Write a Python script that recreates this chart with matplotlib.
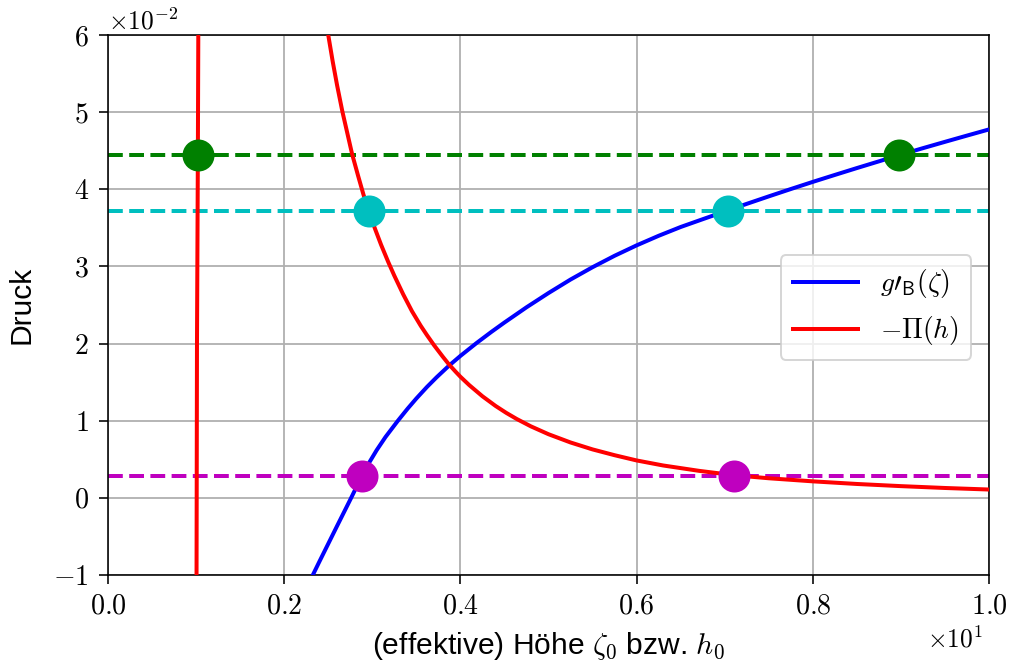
import matplotlib
matplotlib.use("Agg")
import matplotlib.pyplot as plt
from matplotlib.ticker import FuncFormatter

# g'_B(zeta): effective interface potential derivative
zeta = [2.325, 2.40, 2.50, 2.60, 2.70, 2.76, 2.82, 2.88, 2.96, 3.05, 3.15, 3.29,
        3.40, 3.50, 3.62, 3.73, 3.87, 4.00, 4.18, 4.35, 4.50, 4.75, 5.00, 5.25,
        5.50, 5.75, 6.00, 6.25, 6.50, 6.75, 7.04, 7.25, 7.50, 7.75, 8.00, 8.25,
        8.50, 8.75, 8.975, 9.25, 9.50, 9.75, 10.0]
g_prime = [-0.01000, -0.00825, -0.00595, -0.00365, -0.00137, 0.00000, 0.00140,
           0.00280, 0.00448, 0.00619, 0.00789, 0.00999, 0.01155, 0.01288,
           0.01437, 0.01563, 0.01713, 0.01840, 0.02004, 0.02150, 0.02273,
           0.02470, 0.02655, 0.02830, 0.02990, 0.03138, 0.03273, 0.03397,
           0.03511, 0.03612, 0.03728, 0.03811, 0.03908, 0.04003, 0.04096,
           0.04186, 0.04275, 0.04362, 0.04441, 0.04533, 0.04615, 0.04696,
           0.04776]

# -Pi(h): disjoining pressure, repulsive wall and long-range tail
h_wall = [1.005, 1.010, 1.020, 1.025]
pi_wall = [-0.0100, 0.0200, 0.0444, 0.0600]
h_tail = [2.50, 2.55, 2.60, 2.66, 2.72, 2.77, 2.84, 2.90, 2.96, 3.03, 3.10, 3.18,
          3.25, 3.35, 3.45, 3.55, 3.62, 3.70, 3.80, 3.87, 3.95, 4.00, 4.10, 4.25,
          4.40, 4.52, 4.64, 4.80, 5.00, 5.25, 5.50, 5.75, 6.00, 6.30, 6.71, 7.11,
          7.50, 8.00, 8.50, 9.00, 9.50, 10.0]
pi_tail = [0.06000, 0.05660, 0.05350, 0.05010, 0.04710, 0.04460, 0.04170,
           0.03930, 0.03720, 0.03490, 0.03280, 0.03060, 0.02880, 0.02640,
           0.02420, 0.02230, 0.02110, 0.01980, 0.01830, 0.01730, 0.01630,
           0.01570, 0.01462, 0.01317, 0.01191, 0.01102, 0.01022, 0.00927,
           0.00825, 0.00718, 0.00628, 0.00553, 0.00485, 0.00420, 0.00350,
           0.00293, 0.00254, 0.00214, 0.00180, 0.00152, 0.00128, 0.00108]

# equal-pressure levels and their intersection points
levels = [0.0444, 0.0372, 0.0028]
level_colors = ["g", "c", "m"]
level_x = [[1.02, 8.975], [2.96, 7.04], [2.88, 7.11]]

x_ticks = [0, 2, 4, 6, 8, 10]
y_ticks = [-0.01, 0.0, 0.01, 0.02, 0.03, 0.04, 0.05, 0.06]

plt.rcParams["mathtext.fontset"] = "cm"
plt.rcParams["font.family"] = ["Liberation Sans", "DejaVu Sans"]

W, H, DPI = 1013, 668, 144
fig = plt.figure(figsize=(W / DPI, H / DPI), dpi=DPI)
ax = fig.add_axes([108 / W, (H - 575) / H, 881 / W, 540 / H])

ax.plot(zeta, g_prime, color="b", lw=2, label=r"$g\prime_{\mathsf{B}}(\zeta)$", zorder=3)
ax.plot(h_wall, pi_wall, color="r", lw=2, label=r"$-\Pi(h)$", zorder=3)
ax.plot(h_tail, pi_tail, color="r", lw=2, zorder=3)

for lev, col, xs in zip(levels, level_colors, level_x):
    ax.axhline(lev, color=col, lw=2, ls="--", zorder=2)
    ax.plot(xs, [lev, lev], "o", color=col, ms=15, zorder=4)

ax.set_xlim(0, 10)
ax.set_ylim(-0.01, 0.06)
ax.set_xticks(x_ticks)
ax.set_yticks(y_ticks)
ax.xaxis.set_major_formatter(FuncFormatter(lambda v, p: r"$%.1f$" % (v / 10)))
ax.yaxis.set_major_formatter(FuncFormatter(lambda v, p: r"$%d$" % round(v * 100)))
ax.tick_params(labelsize=14, length=4.5, pad=5)
ax.grid(True, color="#b0b0b0", lw=0.9)
ax.set_axisbelow(True)

ax.text(0.0, 1.0, r"$\times10^{-2}$", transform=ax.transAxes, ha="left",
        va="bottom", fontsize=12.7)
ax.text(0.993, -0.095, r"$\times10^{1}$", transform=ax.transAxes, ha="right",
        va="top", fontsize=12.7)

ax.set_xlabel(r"(effektive) Höhe $\zeta_0$ bzw. $h_0$", fontsize=15, labelpad=5)
ax.set_ylabel("Druck", fontsize=15, labelpad=9)

ax.legend(loc="upper left", bbox_to_anchor=((780.7 - 108) / 881, (575 - 255) / 540),
          borderaxespad=0, fontsize=13.8, handlelength=2.35, handletextpad=0.8,
          labelspacing=0.5, framealpha=0.8, borderpad=0.45)

fig.savefig("out.png", dpi=DPI)
